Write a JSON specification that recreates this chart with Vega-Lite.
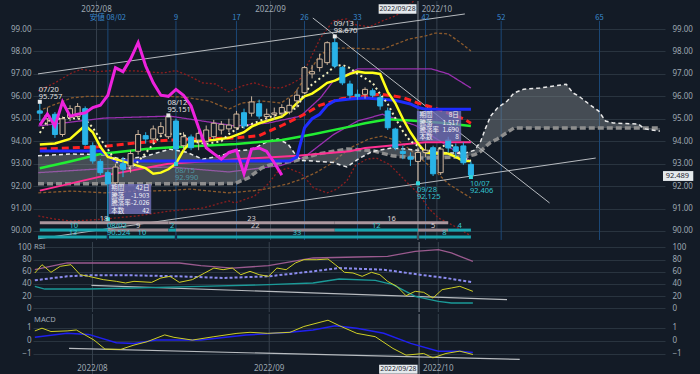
{
"$schema":"https://vega.github.io/schema/vega-lite/v6.json",
"background":"#131b26",
"padding":0,
"spacing":0,
"config":{"view":{"stroke":null},"font":"Noto Sans","concat":{"spacing":0},"text":{"font":"Noto Sans","fontSize":7.5}},
"datasets":{
"candles":[
{"i":-9,"o":95.35,"h":95.757,"l":94.9,"c":95.25},{"i":-8,"o":95.0,"h":95.5,"l":94.7,"c":95.15},{"i":-7,"o":95.2,"h":95.3,"l":94.15,"c":94.3},{"i":-6,"o":94.3,"h":95.1,"l":94.2,"c":95.0},{"i":-5,"o":95.05,"h":95.6,"l":94.9,"c":95.45},{"i":-4,"o":95.1,"h":95.7,"l":95.0,"c":95.55},{"i":-3,"o":95.45,"h":95.55,"l":93.8,"c":93.86},{"i":-2,"o":93.8,"h":93.95,"l":93.0,"c":93.12},{"i":-1,"o":93.1,"h":93.2,"l":92.5,"c":92.6},{"i":0,"o":92.6,"h":92.7,"l":90.524,"c":92.1},
{"i":1,"o":92.15,"h":93.0,"l":92.05,"c":92.85},{"i":2,"o":93.0,"h":93.3,"l":92.4,"c":92.75},{"i":3,"o":92.9,"h":93.6,"l":92.6,"c":93.45},{"i":4,"o":93.55,"h":94.5,"l":93.4,"c":94.3},{"i":5,"o":94.25,"h":94.4,"l":93.9,"c":94.1},{"i":6,"o":94.1,"h":94.7,"l":93.9,"c":94.55},{"i":7,"o":94.35,"h":94.85,"l":94.2,"c":94.65},{"i":8,"o":94.2,"h":95.151,"l":94.1,"c":95.1},{"i":9,"o":94.9,"h":95.0,"l":92.99,"c":93.65},{"i":10,"o":93.8,"h":94.4,"l":93.6,"c":94.2},
{"i":11,"o":94.19,"h":94.3,"l":93.6,"c":93.71},{"i":12,"o":94.05,"h":94.45,"l":93.6,"c":94.35},{"i":13,"o":94.0,"h":94.7,"l":93.9,"c":94.5},{"i":14,"o":94.2,"h":94.95,"l":94.1,"c":94.8},{"i":15,"o":94.5,"h":94.9,"l":94.3,"c":94.75},{"i":16,"o":94.55,"h":95.0,"l":94.4,"c":94.72},{"i":17,"o":94.6,"h":95.35,"l":94.5,"c":95.21},{"i":18,"o":95.27,"h":95.45,"l":94.55,"c":94.68},{"i":19,"o":95.25,"h":96.0,"l":95.1,"c":95.75},{"i":20,"o":95.67,"h":95.85,"l":95.0,"c":95.12},
{"i":21,"o":95.1,"h":95.45,"l":94.9,"c":95.2},{"i":22,"o":95.2,"h":95.5,"l":94.95,"c":95.26},{"i":23,"o":95.25,"h":95.65,"l":95.1,"c":95.5},{"i":24,"o":95.3,"h":95.9,"l":95.2,"c":95.6},{"i":25,"o":95.8,"h":96.3,"l":95.5,"c":96.05},{"i":26,"o":96.16,"h":97.35,"l":96.1,"c":97.28},{"i":27,"o":97.0,"h":97.4,"l":96.8,"c":97.1},{"i":28,"o":97.28,"h":97.9,"l":97.1,"c":97.66},{"i":29,"o":97.5,"h":98.45,"l":97.4,"c":98.39},{"i":30,"o":98.39,"h":98.67,"l":97.25,"c":97.35},
{"i":31,"o":97.28,"h":97.35,"l":96.5,"c":96.6},{"i":32,"o":96.55,"h":96.7,"l":95.9,"c":96.05},{"i":33,"o":96.09,"h":96.3,"l":95.85,"c":96.0},{"i":34,"o":96.09,"h":96.4,"l":95.9,"c":96.31},{"i":35,"o":96.25,"h":96.35,"l":95.95,"c":96.05},{"i":36,"o":95.94,"h":96.1,"l":95.4,"c":95.57},{"i":37,"o":95.35,"h":95.5,"l":94.5,"c":94.6},{"i":38,"o":94.54,"h":94.6,"l":93.6,"c":93.71},{"i":39,"o":93.55,"h":93.8,"l":93.2,"c":93.45},{"i":40,"o":93.3,"h":93.5,"l":92.9,"c":93.2},
{"i":41,"o":93.1,"h":93.7,"l":92.125,"c":93.5},{"i":42,"o":93.5,"h":93.9,"l":93.3,"c":93.6},{"i":43,"o":93.71,"h":93.8,"l":92.45,"c":92.55},{"i":44,"o":92.6,"h":93.75,"l":92.5,"c":93.65},{"i":45,"o":94.05,"h":94.2,"l":93.5,"c":93.7},{"i":46,"o":93.75,"h":93.9,"l":93.3,"c":93.55},{"i":47,"o":93.79,"h":93.95,"l":92.95,"c":93.04},{"i":48,"o":92.97,"h":93.1,"l":92.406,"c":92.489}
],
"ma":[
{"i":-9,"s":"ten","v":93.85},{"i":-7,"s":"ten","v":93.9},{"i":-5,"s":"ten","v":94.1},{"i":-3,"s":"ten","v":94.7},{"i":-2,"s":"ten","v":94.4},{"i":-1,"s":"ten","v":93.75},{"i":0,"s":"ten","v":93.3},{"i":2,"s":"ten","v":93.1},{"i":3,"s":"ten","v":93.0},{"i":5,"s":"ten","v":92.8},{"i":6,"s":"ten","v":92.55},{"i":7,"s":"ten","v":92.6},{"i":8,"s":"ten","v":92.75},{"i":9,"s":"ten","v":93.0},{"i":10,"s":"ten","v":93.6},{"i":11,"s":"ten","v":94.0},{"i":12,"s":"ten","v":94.0},{"i":14,"s":"ten","v":94.05},{"i":16,"s":"ten","v":94.15},{"i":18,"s":"ten","v":94.4},{"i":19,"s":"ten","v":94.65},{"i":20,"s":"ten","v":94.8},{"i":21,"s":"ten","v":94.9},{"i":23,"s":"ten","v":95.1},{"i":24,"s":"ten","v":95.35},{"i":25,"s":"ten","v":95.7},{"i":26,"s":"ten","v":96.0},{"i":27,"s":"ten","v":96.12},{"i":28,"s":"ten","v":96.35},{"i":29,"s":"ten","v":96.6},{"i":30,"s":"ten","v":96.7},{"i":31,"s":"ten","v":96.85},{"i":32,"s":"ten","v":97.0},{"i":33,"s":"ten","v":97.1},{"i":34,"s":"ten","v":97.05},{"i":35,"s":"ten","v":97.05},{"i":36,"s":"ten","v":97.0},{"i":37,"s":"ten","v":96.2},{"i":38,"s":"ten","v":95.7},{"i":39,"s":"ten","v":95.0},{"i":40,"s":"ten","v":94.4},{"i":41,"s":"ten","v":93.9},{"i":42,"s":"ten","v":93.5},{"i":43,"s":"ten","v":93.45},{"i":44,"s":"ten","v":93.45},{"i":45,"s":"ten","v":93.45},{"i":46,"s":"ten","v":93.3},{"i":47,"s":"ten","v":93.12},{"i":48,"s":"ten","v":93.12},
{"i":-9,"s":"kij","v":93.56},{"i":-1,"s":"kij","v":93.56},{"i":0,"s":"kij","v":93.35},{"i":1,"s":"kij","v":93.12},{"i":24,"s":"kij","v":93.12},{"i":25,"s":"kij","v":93.3},{"i":26,"s":"kij","v":94.6},{"i":27,"s":"kij","v":95.0},{"i":28,"s":"kij","v":95.2},{"i":29,"s":"kij","v":95.6},{"i":30,"s":"kij","v":95.8},{"i":32,"s":"kij","v":95.88},{"i":34,"s":"kij","v":95.93},{"i":36,"s":"kij","v":95.88},{"i":38,"s":"kij","v":95.82},{"i":40,"s":"kij","v":95.66},{"i":41,"s":"kij","v":95.5},{"i":42,"s":"kij","v":95.43},{"i":48,"s":"kij","v":95.43},
{"i":-9,"s":"red","v":93.65},{"i":-5,"s":"red","v":93.7},{"i":-1,"s":"red","v":93.75},{"i":3,"s":"red","v":93.9},{"i":8,"s":"red","v":94.05},{"i":12,"s":"red","v":94.1},{"i":17,"s":"red","v":94.15},{"i":20,"s":"red","v":94.25},{"i":23,"s":"red","v":94.7},{"i":26,"s":"red","v":95.2},{"i":28,"s":"red","v":95.6},{"i":31,"s":"red","v":95.9},{"i":34,"s":"red","v":96.0},{"i":36,"s":"red","v":96.1},{"i":39,"s":"red","v":95.95},{"i":41,"s":"red","v":95.7},{"i":43,"s":"red","v":95.5},{"i":45,"s":"red","v":95.25},{"i":47,"s":"red","v":95.0},{"i":48,"s":"red","v":94.8},
{"i":-9,"s":"grn","v":92.8},{"i":-5,"s":"grn","v":93.1},{"i":-1,"s":"grn","v":93.43},{"i":5,"s":"grn","v":93.65},{"i":8,"s":"grn","v":93.72},{"i":17,"s":"grn","v":93.88},{"i":23,"s":"grn","v":94.05},{"i":27,"s":"grn","v":94.3},{"i":32,"s":"grn","v":94.65},{"i":34,"s":"grn","v":94.8},{"i":37,"s":"grn","v":94.98},{"i":40,"s":"grn","v":94.92},{"i":44,"s":"grn","v":94.82},{"i":48,"s":"grn","v":94.68},
{"i":-9,"s":"pnk","v":91.8},{"i":0,"s":"pnk","v":92.5},{"i":8,"s":"pnk","v":93.0},{"i":17,"s":"pnk","v":93.2},{"i":25,"s":"pnk","v":93.35},{"i":32,"s":"pnk","v":93.55},{"i":34,"s":"pnk","v":93.7},{"i":42,"s":"pnk","v":93.95},{"i":48,"s":"pnk","v":93.95},
{"i":-9,"s":"ma5","v":94.37},{"i":-8,"s":"ma5","v":94.9},{"i":-6,"s":"ma5","v":95.03},{"i":-5,"s":"ma5","v":95.03},{"i":-3,"s":"ma5","v":94.98},{"i":-2,"s":"ma5","v":94.6},{"i":-1,"s":"ma5","v":94.1},{"i":0,"s":"ma5","v":93.65},{"i":1,"s":"ma5","v":93.12},{"i":2,"s":"ma5","v":92.8},{"i":3,"s":"ma5","v":92.8},{"i":4,"s":"ma5","v":93.1},{"i":5,"s":"ma5","v":93.47},{"i":6,"s":"ma5","v":93.88},{"i":7,"s":"ma5","v":94.23},{"i":9,"s":"ma5","v":94.37},{"i":10,"s":"ma5","v":94.3},{"i":11,"s":"ma5","v":94.0},{"i":13,"s":"ma5","v":93.88},{"i":15,"s":"ma5","v":94.0},{"i":16,"s":"ma5","v":94.32},{"i":17,"s":"ma5","v":94.54},{"i":19,"s":"ma5","v":94.77},{"i":20,"s":"ma5","v":94.9},{"i":21,"s":"ma5","v":95.03},{"i":23,"s":"ma5","v":95.26},{"i":25,"s":"ma5","v":95.48},{"i":26,"s":"ma5","v":96.15},{"i":27,"s":"ma5","v":96.54},{"i":29,"s":"ma5","v":97.04},{"i":30,"s":"ma5","v":97.35},{"i":31,"s":"ma5","v":97.4},{"i":32,"s":"ma5","v":97.26},{"i":33,"s":"ma5","v":97.0},{"i":34,"s":"ma5","v":96.8},{"i":35,"s":"ma5","v":96.6},{"i":36,"s":"ma5","v":96.1},{"i":37,"s":"ma5","v":95.66},{"i":38,"s":"ma5","v":95.03},{"i":39,"s":"ma5","v":94.45},{"i":40,"s":"ma5","v":94.0},{"i":41,"s":"ma5","v":93.79},{"i":42,"s":"ma5","v":93.56},{"i":43,"s":"ma5","v":93.6},{"i":44,"s":"ma5","v":93.7},{"i":45,"s":"ma5","v":93.92},{"i":46,"s":"ma5","v":93.7},{"i":47,"s":"ma5","v":93.25},{"i":48,"s":"ma5","v":93.12},
{"i":-9,"s":"chi","v":94.72},{"i":-8,"s":"chi","v":95.21},{"i":-7,"s":"chi","v":94.68},{"i":-6,"s":"chi","v":95.75},{"i":-5,"s":"chi","v":95.12},{"i":-4,"s":"chi","v":95.2},{"i":-3,"s":"chi","v":95.26},{"i":-2,"s":"chi","v":95.5},{"i":-1,"s":"chi","v":95.6},{"i":0,"s":"chi","v":96.05},{"i":1,"s":"chi","v":97.28},{"i":2,"s":"chi","v":97.1},{"i":3,"s":"chi","v":97.66},{"i":4,"s":"chi","v":98.39},{"i":5,"s":"chi","v":97.35},{"i":6,"s":"chi","v":96.6},{"i":7,"s":"chi","v":96.05},{"i":8,"s":"chi","v":96.0},{"i":9,"s":"chi","v":96.31},{"i":10,"s":"chi","v":96.05},{"i":11,"s":"chi","v":95.57},{"i":12,"s":"chi","v":94.6},{"i":13,"s":"chi","v":93.71},{"i":14,"s":"chi","v":93.45},{"i":15,"s":"chi","v":93.2},{"i":16,"s":"chi","v":93.5},{"i":17,"s":"chi","v":93.6},{"i":18,"s":"chi","v":92.55},{"i":19,"s":"chi","v":93.65},{"i":20,"s":"chi","v":93.7},{"i":21,"s":"chi","v":93.55},{"i":22,"s":"chi","v":93.04},{"i":23,"s":"chi","v":92.489}
],
"bands":[
{"i":-9.2,"s":"u3","v":96.24},{"i":-7,"s":"u3","v":96.6},{"i":-4.8,"s":"u3","v":97.04},{"i":-3.5,"s":"u3","v":97.2},{"i":-1.4,"s":"u3","v":97.1},{"i":0.8,"s":"u3","v":97.15},{"i":3.8,"s":"u3","v":97.13},{"i":7.3,"s":"u3","v":97.04},{"i":9,"s":"u3","v":97.15},{"i":10.8,"s":"u3","v":96.9},{"i":12.5,"s":"u3","v":96.6},{"i":14.2,"s":"u3","v":96.55},{"i":16,"s":"u3","v":96.2},{"i":17.7,"s":"u3","v":96.46},{"i":19.4,"s":"u3","v":96.6},{"i":21.2,"s":"u3","v":96.4},{"i":22.9,"s":"u3","v":96.37},{"i":24.2,"s":"u3","v":96.55},{"i":25.5,"s":"u3","v":96.8},{"i":26.8,"s":"u3","v":97.7},{"i":28.1,"s":"u3","v":98.6},{"i":29.8,"s":"u3","v":99.36},{"i":31.6,"s":"u3","v":99.45},{"i":32.5,"s":"u3","v":99.2},{"i":34.6,"s":"u3","v":99.1},{"i":36.3,"s":"u3","v":99.36},{"i":38.1,"s":"u3","v":99.6},{"i":39.2,"s":"u3","v":99.9},{"i":41,"s":"u3","v":100.4},{"i":44,"s":"u3","v":101.0},{"i":48,"s":"u3","v":101.2},
{"i":-9.2,"s":"l3","v":90.67},{"i":-7,"s":"l3","v":90.53},{"i":-4.8,"s":"l3","v":90.44},{"i":-0.5,"s":"l3","v":90.53},{"i":3.8,"s":"l3","v":90.67},{"i":8.2,"s":"l3","v":90.89},{"i":12.5,"s":"l3","v":91.02},{"i":16,"s":"l3","v":91.34},{"i":16.8,"s":"l3","v":91.25},{"i":19.4,"s":"l3","v":91.56},{"i":21.2,"s":"l3","v":92.1},{"i":22.5,"s":"l3","v":92.67},{"i":23.8,"s":"l3","v":92.8},{"i":25.5,"s":"l3","v":92.58},{"i":27.2,"s":"l3","v":91.92},{"i":29,"s":"l3","v":91.7},{"i":30.3,"s":"l3","v":91.87},{"i":31.6,"s":"l3","v":92.23},{"i":32.7,"s":"l3","v":92.9},{"i":34.2,"s":"l3","v":93.2},{"i":35.5,"s":"l3","v":93.25},{"i":37.2,"s":"l3","v":92.97},{"i":38.5,"s":"l3","v":92.53},{"i":39.8,"s":"l3","v":92.08},{"i":41.1,"s":"l3","v":91.65},{"i":42.4,"s":"l3","v":91.02},{"i":43.7,"s":"l3","v":90.58},{"i":45,"s":"l3","v":90.36},{"i":46.3,"s":"l3","v":90.13},{"i":48,"s":"l3","v":89.78},
{"i":-9.2,"s":"u2","v":95.35},{"i":-4.8,"s":"u2","v":95.93},{"i":-2.7,"s":"u2","v":96.0},{"i":3.8,"s":"u2","v":96.0},{"i":8.2,"s":"u2","v":96.0},{"i":10.3,"s":"u2","v":95.95},{"i":13.4,"s":"u2","v":95.79},{"i":16,"s":"u2","v":95.43},{"i":17.7,"s":"u2","v":95.7},{"i":20.3,"s":"u2","v":95.79},{"i":22.9,"s":"u2","v":95.7},{"i":24.6,"s":"u2","v":96.1},{"i":26.4,"s":"u2","v":96.98},{"i":28.1,"s":"u2","v":97.87},{"i":29.8,"s":"u2","v":98.15},{"i":31.6,"s":"u2","v":98.15},{"i":36.3,"s":"u2","v":98.1},{"i":39.8,"s":"u2","v":98.55},{"i":42,"s":"u2","v":98.69},{"i":43.3,"s":"u2","v":98.82},{"i":45,"s":"u2","v":98.78},{"i":46.7,"s":"u2","v":98.37},{"i":48,"s":"u2","v":98.02},
{"i":-9.2,"s":"l2","v":91.7},{"i":-4.8,"s":"l2","v":91.78},{"i":-0.5,"s":"l2","v":91.7},{"i":3.8,"s":"l2","v":91.78},{"i":8.2,"s":"l2","v":91.8},{"i":10.8,"s":"l2","v":91.87},{"i":16,"s":"l2","v":91.7},{"i":19.4,"s":"l2","v":91.8},{"i":21.2,"s":"l2","v":91.9},{"i":23.8,"s":"l2","v":92.1},{"i":25.5,"s":"l2","v":92.3},{"i":27.5,"s":"l2","v":92.6},{"i":29.5,"s":"l2","v":93.0},{"i":32,"s":"l2","v":93.7},{"i":34.5,"s":"l2","v":94.1},{"i":36.3,"s":"l2","v":94.23},{"i":38.5,"s":"l2","v":94.0},{"i":40.7,"s":"l2","v":93.43},{"i":43.3,"s":"l2","v":92.67},{"i":45,"s":"l2","v":92.1},{"i":48,"s":"l2","v":91.47},
{"i":-9.2,"s":"u1","v":94.68},{"i":-0.5,"s":"u1","v":95.03},{"i":8.2,"s":"u1","v":95.12},{"i":12.5,"s":"u1","v":94.9},{"i":16.8,"s":"u1","v":94.68},{"i":21.2,"s":"u1","v":94.81},{"i":25.5,"s":"u1","v":95.12},{"i":28.1,"s":"u1","v":95.93},{"i":29.8,"s":"u1","v":96.68},{"i":31.6,"s":"u1","v":96.98},{"i":33,"s":"u1","v":97.22},{"i":36.3,"s":"u1","v":97.22},{"i":40.7,"s":"u1","v":97.22},{"i":42.8,"s":"u1","v":97.22},{"i":45,"s":"u1","v":97.0},{"i":48,"s":"u1","v":96.37},
{"i":-9.2,"s":"l1","v":92.6},{"i":-0.5,"s":"l1","v":92.78},{"i":8.2,"s":"l1","v":92.85},{"i":16,"s":"l1","v":92.63},{"i":22.9,"s":"l1","v":92.92},{"i":26,"s":"l1","v":93.3},{"i":29.8,"s":"l1","v":94.29},{"i":33,"s":"l1","v":94.9},{"i":36.3,"s":"l1","v":95.2},{"i":40.7,"s":"l1","v":94.7},{"i":45,"s":"l1","v":93.77},{"i":48,"s":"l1","v":93.1}
],
"cloud":[
{"i":-9.24,"a":93.35,"b":92.1},{"i":-5,"a":93.43,"b":92.1},{"i":-0.5,"a":93.4,"b":92.1},{"i":1.7,"a":93.2,"b":92.1},{"i":4.7,"a":93.3,"b":92.1},{"i":8.2,"a":93.65,"b":92.1},{"i":10.5,"a":93.5,"b":92.1},{"i":12.5,"a":93.2,"b":92.11},{"i":14.7,"a":93.34,"b":92.11},{"i":16.8,"a":93.56,"b":92.12},{"i":18.6,"a":93.62,"b":92.37},{"i":19.5,"a":93.7,"b":92.6},{"i":20.3,"a":93.85,"b":92.8},{"i":21.2,"a":94.0,"b":92.92},{"i":22.5,"a":94.1,"b":93.03},{"i":23.8,"a":93.88,"b":93.08},{"i":24.6,"a":93.5,"b":93.12},{"i":25.5,"a":93.15,"b":93.2},{"i":27.7,"a":93.1,"b":93.43},{"i":29.8,"a":93.05,"b":93.55},{"i":31.6,"a":92.85,"b":93.65},{"i":33.3,"a":93.25,"b":93.62},{"i":35,"a":93.55,"b":93.58},{"i":37.6,"a":93.7,"b":93.35},{"i":41,"a":93.6,"b":93.25},{"i":44,"a":93.5,"b":93.27},{"i":47,"a":93.45,"b":93.3},{"i":48.5,"a":93.6,"b":93.4},{"i":49.3,"a":94.0,"b":93.55},{"i":49.9,"a":94.55,"b":93.75},{"i":50.6,"a":95.12,"b":93.95},{"i":51.5,"a":95.48,"b":94.1},{"i":52.8,"a":95.79,"b":94.4},{"i":53.7,"a":96.15,"b":94.59},{"i":55,"a":96.32,"b":94.59},{"i":57.1,"a":96.37,"b":94.59},{"i":59,"a":96.46,"b":94.59},{"i":60.6,"a":96.54,"b":94.59},{"i":61.5,"a":96.15,"b":94.59},{"i":62.3,"a":96.0,"b":94.59},{"i":63.6,"a":95.66,"b":94.59},{"i":64.9,"a":95.34,"b":94.59},{"i":65.8,"a":94.9,"b":94.59},{"i":66.8,"a":94.81,"b":94.59},{"i":70.1,"a":94.77,"b":94.59},{"i":71,"a":94.55,"b":94.59},{"i":73,"a":94.45,"b":94.59}
],
"fib":[{"v":98.67,"p":"0%","t":"98.670"},{"v":96.748,"p":"23.6%","t":"96.748"},{"v":95.558,"p":"38.2%","t":"95.558"},{"v":94.597,"p":"50%","t":"94.597"},{"v":93.636,"p":"61.8%","t":"93.636"},{"v":92.446,"p":"76.4%","t":"92.446"},{"v":90.524,"p":"100%","t":"90.524"}],
"trend":[{"g":"t1","i":-9.24,"v":97.0},{"g":"t1","i":47.2,"v":99.67},{"g":"t2","i":-9.24,"v":89.65},{"g":"t2","i":64.5,"v":93.25},{"g":"t3","i":27.1,"v":99.49},{"g":"t3","i":58.4,"v":91.25}],
"dates":[{"i":-1.5,"t":"2022/08"},{"i":21.5,"t":"2022/09"},{"i":43.5,"t":"2022/10"}],
"sel":[{"i":41,"t":"2022/09/28","a":35.8,"b":40.8,"m":38.3}],
"cycles":[{"i":0,"t":"安値 08/02"},{"i":9,"t":"9"},{"i":17,"t":"17"},{"i":26,"t":"26"},{"i":33,"t":"33"},{"i":42,"t":"42"},{"i":52,"t":"52"},{"i":65,"t":"65"}],
"pivots":[{"i":-9,"v":95.757,"k":"hi","d":"07/20","t":"95.757"},{"i":8,"v":95.151,"k":"hi","d":"08/12","t":"95.151"},{"i":30,"v":98.67,"k":"hi","d":"09/13","t":"98.670"},{"i":0,"v":90.524,"k":"lo","d":"08/02","t":"90.524"},{"i":9,"v":92.99,"k":"lo2","d":"08/15","t":"92.990"},{"i":41,"v":92.125,"k":"lo","d":"09/28","t":"92.125"},{"i":48,"v":92.406,"k":"lo","d":"10/07","t":"92.406"}],
"swings":[
{"a":-9,"b":8,"m":-0.5,"r":90.37,"k":"hh","n":"18"},{"a":8,"b":30,"m":19,"r":90.37,"k":"hh","n":"23"},{"a":30,"b":45,"m":37.5,"r":90.37,"k":"hh","n":"16"},
{"a":-9,"b":0,"m":-4.5,"r":90.04,"k":"dn","n":"10"},{"a":0,"b":8,"m":4,"r":90.04,"k":"up","n":"9"},{"a":8,"b":9,"m":8.5,"r":90.04,"k":"dn","n":"2"},{"a":9,"b":30,"m":19.5,"r":90.04,"k":"up","n":"22"},{"a":30,"b":41,"m":35.5,"r":90.04,"k":"dn","n":"12"},{"a":41,"b":45,"m":43,"r":90.04,"k":"up","n":"5"},{"a":45,"b":48,"m":46.5,"r":90.04,"k":"dn","n":"4"},
{"a":-9.24,"b":-0.15,"m":-4.6,"r":89.73,"k":"dn","n":"13"},{"a":0.15,"b":8.85,"m":4.5,"r":89.73,"k":"dn","n":"10"},{"a":9.15,"b":40.85,"m":25,"r":89.73,"k":"dn","n":"33"},{"a":41.15,"b":48,"m":44.5,"r":89.73,"k":"dn","n":"8"}
],
"infobox":[{"a":0.13,"b":5.73,"t":92.09,"u":90.76},{"a":40.86,"b":46.71,"t":95.35,"u":94.01}],
"info":[
{"xl":0.45,"xr":5.5,"v":91.92,"lab":"期間","val":"42日"},{"xl":0.45,"xr":5.5,"v":91.58,"lab":"騰落","val":"-1.903"},{"xl":0.45,"xr":5.5,"v":91.25,"lab":"騰落率","val":"-2.026"},{"xl":0.45,"xr":5.5,"v":90.91,"lab":"本数","val":"42"},
{"xl":41.2,"xr":46.4,"v":95.17,"lab":"期間","val":"8日"},{"xl":41.2,"xr":46.4,"v":94.83,"lab":"騰落","val":"1.517"},{"xl":41.2,"xr":46.4,"v":94.5,"lab":"騰落率","val":"1.690"},{"xl":41.2,"xr":46.4,"v":94.17,"lab":"本数","val":"8"}
],
"tag":[{"a":73.4,"b":77.4,"t":92.67,"u":92.23,"m":75.3,"v":92.45,"s":"92.489"}],
"rsi":[
{"i":-9,"s":"y","v":57.9},{"i":-8.07,"s":"y","v":71.5},{"i":-6.9,"s":"y","v":59},{"i":-5.7,"s":"y","v":68.8},{"i":-4.3,"s":"y","v":71.5},{"i":-3.1,"s":"y","v":55.1},{"i":-2,"s":"y","v":52.4},{"i":-0.1,"s":"y","v":47},{"i":1.6,"s":"y","v":44.2},{"i":2.8,"s":"y","v":41.5},{"i":3.9,"s":"y","v":44.2},{"i":6.2,"s":"y","v":42.5},{"i":7.4,"s":"y","v":49.7},{"i":8.6,"s":"y","v":52.4},{"i":9.8,"s":"y","v":42.6},{"i":11.5,"s":"y","v":47},{"i":13.1,"s":"y","v":57.9},{"i":14.3,"s":"y","v":66},{"i":15.5,"s":"y","v":63.3},{"i":16.7,"s":"y","v":66},{"i":17.8,"s":"y","v":55.1},{"i":19,"s":"y","v":60.6},{"i":20.2,"s":"y","v":55.1},{"i":21.4,"s":"y","v":52.4},{"i":22.5,"s":"y","v":66},{"i":23.7,"s":"y","v":63.3},{"i":24.9,"s":"y","v":74.3},{"i":26,"s":"y","v":79.7},{"i":27.7,"s":"y","v":79.7},{"i":29.15,"s":"y","v":80.8},{"i":30.1,"s":"y","v":71.5},{"i":31.3,"s":"y","v":59},{"i":32.4,"s":"y","v":57.9},{"i":33.6,"s":"y","v":52.4},{"i":34.8,"s":"y","v":59},{"i":35.9,"s":"y","v":55.1},{"i":36.9,"s":"y","v":44.2},{"i":38.1,"s":"y","v":36},{"i":39.3,"s":"y","v":20.7},{"i":40.5,"s":"y","v":27.8},{"i":41.6,"s":"y","v":26.2},{"i":42.8,"s":"y","v":16.9},{"i":44,"s":"y","v":30.6},{"i":45.2,"s":"y","v":33.3},{"i":46.3,"s":"y","v":36},{"i":48,"s":"y","v":27.8},
{"i":-9,"s":"l","v":45.9},{"i":-4.8,"s":"l","v":52.4},{"i":-2,"s":"l","v":54},{"i":3.9,"s":"l","v":54},{"i":9.8,"s":"l","v":52.4},{"i":15.5,"s":"l","v":49.7},{"i":21.4,"s":"l","v":52.4},{"i":27.2,"s":"l","v":60.6},{"i":30.6,"s":"l","v":66},{"i":36.4,"s":"l","v":63.3},{"i":41.1,"s":"l","v":55.1},{"i":44.5,"s":"l","v":49.7},{"i":48,"s":"l","v":42.5},
{"i":-9,"s":"p","v":63.3},{"i":-4.8,"s":"p","v":74.3},{"i":1,"s":"p","v":74.3},{"i":9.8,"s":"p","v":74.3},{"i":12.6,"s":"p","v":69.9},{"i":16.7,"s":"p","v":66},{"i":21.4,"s":"p","v":69.9},{"i":27.2,"s":"p","v":82.5},{"i":32.9,"s":"p","v":84.1},{"i":36.9,"s":"p","v":85.2},{"i":40.5,"s":"p","v":93.4},{"i":43.5,"s":"p","v":96.1},{"i":45.2,"s":"p","v":90.7},{"i":48,"s":"p","v":77},
{"i":-9,"s":"t","v":36},{"i":-7.7,"s":"t","v":31.6},{"i":-2,"s":"t","v":31.6},{"i":3.9,"s":"t","v":33.3},{"i":12.6,"s":"t","v":36},{"i":21.4,"s":"t","v":38.7},{"i":27.2,"s":"t","v":41.5},{"i":30.6,"s":"t","v":48},{"i":35.3,"s":"t","v":45.8},{"i":37.6,"s":"t","v":38.7},{"i":40.5,"s":"t","v":19.6},{"i":43.5,"s":"t","v":11.4},{"i":45.2,"s":"t","v":8.7},{"i":48,"s":"t","v":8.7}
],
"macd":[
{"i":-9,"s":"m","v":0.76},{"i":-8.07,"s":"m","v":0.97},{"i":-6.9,"s":"m","v":0.71},{"i":-4.8,"s":"m","v":0.76},{"i":-3.6,"s":"m","v":0.83},{"i":-1.3,"s":"m","v":0.05},{"i":0.13,"s":"m","v":-0.65},{"i":2.2,"s":"m","v":-0.67},{"i":3.9,"s":"m","v":-0.34},{"i":5.6,"s":"m","v":-0.08},{"i":7.9,"s":"m","v":0.45},{"i":9.1,"s":"m","v":0.26},{"i":11.5,"s":"m","v":0.05},{"i":14.3,"s":"m","v":0.31},{"i":17.3,"s":"m","v":0.57},{"i":19,"s":"m","v":0.65},{"i":21.3,"s":"m","v":0.57},{"i":24.2,"s":"m","v":0.65},{"i":26,"s":"m","v":1.1},{"i":29.15,"s":"m","v":1.59},{"i":30.6,"s":"m","v":1.17},{"i":32.9,"s":"m","v":0.57},{"i":35.3,"s":"m","v":0.31},{"i":37.6,"s":"m","v":-0.6},{"i":39.3,"s":"m","v":-1.12},{"i":41.6,"s":"m","v":-0.99},{"i":42.8,"s":"m","v":-1.33},{"i":44.5,"s":"m","v":-0.99},{"i":46.3,"s":"m","v":-0.81},{"i":48,"s":"m","v":-1.07},
{"i":-9,"s":"s","v":0.26},{"i":-4.8,"s":"s","v":0.57},{"i":-2,"s":"s","v":0.49},{"i":1.6,"s":"s","v":-0.16},{"i":3.9,"s":"s","v":-0.21},{"i":6.8,"s":"s","v":0.05},{"i":12.6,"s":"s","v":0.05},{"i":18.5,"s":"s","v":0.44},{"i":24.2,"s":"s","v":0.65},{"i":27.2,"s":"s","v":0.83},{"i":30.1,"s":"s","v":1.15},{"i":32.9,"s":"s","v":0.96},{"i":36.4,"s":"s","v":0.57},{"i":39.9,"s":"s","v":-0.21},{"i":43.5,"s":"s","v":-0.81},{"i":46.3,"s":"s","v":-0.81},{"i":48,"s":"s","v":-0.91}
],
"rtrend":[{"i":-1.63,"v":37.7},{"i":52.44,"v":14.2}],
"mtrend":[{"i":-4.55,"v":-0.6},{"i":54.1,"v":-1.45}]
},
"vconcat":[
{
"width":632,"height":239,
"resolve":{"axis":{"y":"independent"}},
"encoding":{"x":{"field":"i","type":"quantitative","scale":{"domain":[-9.24,73],"nice":false,"zero":false},"axis":null}},
"layer":[
{"data":{"name":"dates"},"mark":{"type":"rule","color":"#36414d"},"encoding":{}},
{"data":{"name":"sel"},"mark":{"type":"rule","color":"#7b838c"},"encoding":{}},
{"data":{"name":"cycles"},"mark":{"type":"rule","color":"#1c4877"},"encoding":{"y":{"datum":99.36,"type":"quantitative","scale":{"domain":[89.599,100.2476],"nice":false,"zero":false},"axis":null},"y2":{"datum":89.6}}},
{"data":{"name":"bands"},"mark":{"type":"line","strokeWidth":1.3,"clip":true},"encoding":{"y":{"field":"v","type":"quantitative","scale":{"domain":[89.599,100.2476],"nice":false,"zero":false},"axis":null},"detail":{"field":"s"},"color":{"field":"s","type":"nominal","scale":{"domain":["u3","l3","u2","l2","u1","l1"],"range":["#8e1e1e","#8e1e1e","#8c5a2c","#8c5a2c","#9a30b0","#9a30b0"]},"legend":null},"strokeDash":{"field":"s","type":"nominal","scale":{"domain":["u3","l3","u2","l2","u1","l1"],"range":[[2,2],[2,2],[3,2],[3,2],[1,0],[1,0]]},"legend":null}}},
{"data":{"name":"cloud"},"mark":{"type":"area","color":"#8a9294","opacity":0.42},"encoding":{"y":{"field":"a","type":"quantitative","scale":{"domain":[89.599,100.2476],"nice":false,"zero":false},"axis":null},"y2":{"field":"b"}}},
{"data":{"name":"cloud"},"mark":{"type":"line","color":"#8e8e8e","strokeWidth":3.5,"strokeDash":[6,3]},"encoding":{"y":{"field":"b","type":"quantitative","scale":{"domain":[89.599,100.2476],"nice":false,"zero":false},"axis":null}}},
{"data":{"name":"cloud"},"mark":{"type":"line","color":"#e8e8e8","strokeWidth":1.5,"strokeDash":[4,3]},"encoding":{"y":{"field":"a","type":"quantitative","scale":{"domain":[89.599,100.2476],"nice":false,"zero":false},"axis":null}}},
{"data":{"name":"fib"},"mark":{"type":"rule","color":"#2b7d2b"},"encoding":{"x":{"datum":-9.24},"x2":{"datum":60.64},"y":{"field":"v","type":"quantitative","scale":{"domain":[89.599,100.2476],"nice":false,"zero":false},"axis":{"orient":"right","values":[90,91,92,93,94,95,96,97,98,99],"format":".2f","title":null,"grid":false,"domain":false,"ticks":false,"labelColor":"#9ea8b2","labelFontSize":8,"labelPadding":7,"minExtent":35,"maxExtent":35}}}},
{"data":{"values":[{"v":92}]},"mark":{"type":"rule","color":"#8a5a30","strokeWidth":1.2},"encoding":{"x":{"datum":-9.24},"x2":{"datum":73},"y":{"field":"v","type":"quantitative","scale":{"domain":[89.599,100.2476],"nice":false,"zero":false},"axis":{"orient":"left","values":[90,91,92,93,94,95,96,97,98,99],"format":".2f","title":null,"grid":true,"gridColor":"#29343f","domain":false,"ticks":false,"labelColor":"#9ea8b2","labelFontSize":8,"labelPadding":2,"minExtent":33,"maxExtent":33}}}},
{"data":{"name":"trend"},"mark":{"type":"line","color":"#b8bcc0","strokeWidth":1,"clip":true},"encoding":{"y":{"field":"v","type":"quantitative","scale":{"domain":[89.599,100.2476],"nice":false,"zero":false},"axis":null},"detail":{"field":"g"}}},
{"data":{"name":"ma"},"transform":[{"filter":"datum.s=='pnk'"}],"mark":{"type":"line","color":"#ff2f92","strokeWidth":2},"encoding":{"y":{"field":"v","type":"quantitative","scale":{"domain":[89.599,100.2476],"nice":false,"zero":false},"axis":null}}},
{"data":{"name":"ma"},"transform":[{"filter":"datum.s=='grn'"}],"mark":{"type":"line","color":"#22ee33","strokeWidth":2.5},"encoding":{"y":{"field":"v","type":"quantitative","scale":{"domain":[89.599,100.2476],"nice":false,"zero":false},"axis":null}}},
{"data":{"name":"ma"},"transform":[{"filter":"datum.s=='red'"}],"mark":{"type":"line","color":"#ff2222","strokeWidth":3,"strokeDash":[7,4]},"encoding":{"y":{"field":"v","type":"quantitative","scale":{"domain":[89.599,100.2476],"nice":false,"zero":false},"axis":null}}},
{"data":{"name":"ma"},"transform":[{"filter":"datum.s=='kij'"}],"mark":{"type":"line","color":"#1f2dff","strokeWidth":3},"encoding":{"y":{"field":"v","type":"quantitative","scale":{"domain":[89.599,100.2476],"nice":false,"zero":false},"axis":null}}},
{"data":{"name":"ma"},"transform":[{"filter":"datum.s=='ten'"}],"mark":{"type":"line","color":"#ffff1a","strokeWidth":2.5},"encoding":{"y":{"field":"v","type":"quantitative","scale":{"domain":[89.599,100.2476],"nice":false,"zero":false},"axis":null}}},
{"data":{"name":"ma"},"transform":[{"filter":"datum.s=='ma5'"}],"mark":{"type":"line","color":"#f4f0c0","strokeWidth":2,"strokeDash":[2,3]},"encoding":{"y":{"field":"v","type":"quantitative","scale":{"domain":[89.599,100.2476],"nice":false,"zero":false},"axis":null}}},
{"data":{"name":"candles"},"mark":{"type":"rule","strokeWidth":1},"encoding":{"y":{"field":"l","type":"quantitative","scale":{"domain":[89.599,100.2476],"nice":false,"zero":false},"axis":null},"y2":{"field":"h"},"color":{"condition":{"test":"datum.c>=datum.o","value":"#c9b39c"},"value":"#29b3e8"}}},
{"data":{"name":"candles"},"mark":{"type":"bar","width":5,"strokeWidth":1},"encoding":{"y":{"field":"o","type":"quantitative","scale":{"domain":[89.599,100.2476],"nice":false,"zero":false},"axis":null},"y2":{"field":"c"},"fill":{"condition":{"test":"datum.c>=datum.o","value":"#131b26"},"value":"#29b3e8"},"stroke":{"condition":{"test":"datum.c>=datum.o","value":"#d2b89e"},"value":"#29b3e8"}}},
{"data":{"name":"ma"},"transform":[{"filter":"datum.s=='chi'"}],"mark":{"type":"line","color":"#ee22dd","strokeWidth":3},"encoding":{"y":{"field":"v","type":"quantitative","scale":{"domain":[89.599,100.2476],"nice":false,"zero":false},"axis":null}}},
{"data":{"name":"pivots"},"mark":{"type":"square","size":16,"filled":true,"opacity":1},"encoding":{"y":{"field":"v","type":"quantitative","scale":{"domain":[89.599,100.2476],"nice":false,"zero":false},"axis":null},"color":{"condition":{"test":"datum.k=='hi'","value":"#e8e8e8"},"value":"#30d4dc"}}},
{"data":{"name":"swings"},"mark":{"type":"rule","strokeWidth":3},"encoding":{"x":{"field":"a","type":"quantitative"},"x2":{"field":"b"},"y":{"field":"r","type":"quantitative","scale":{"domain":[89.599,100.2476],"nice":false,"zero":false},"axis":null},"color":{"condition":[{"test":"datum.k=='dn'","value":"#1aa4ae"},{"test":"datum.k=='hh'","value":"#ab979e"}],"value":"#978890"}}},
{"data":{"name":"swings"},"mark":{"type":"text","dy":-4,"fontSize":7.5},"encoding":{"x":{"field":"m","type":"quantitative"},"y":{"field":"r","type":"quantitative","scale":{"domain":[89.599,100.2476],"nice":false,"zero":false},"axis":null},"text":{"field":"n"},"color":{"condition":{"test":"datum.k=='dn'","value":"#3cc8d2"},"value":"#d8cfd2"}}},
{"data":{"name":"dates"},"mark":{"type":"text","color":"#9ea8b2","fontSize":8},"encoding":{"y":{"datum":99.86,"type":"quantitative","scale":{"domain":[89.599,100.2476],"nice":false,"zero":false},"axis":null},"text":{"field":"t"}}},
{"data":{"name":"sel"},"mark":{"type":"rect","color":"#e4e9ed"},"encoding":{"x":{"field":"a","type":"quantitative"},"x2":{"field":"b"},"y":{"datum":100.1,"type":"quantitative","scale":{"domain":[89.599,100.2476],"nice":false,"zero":false},"axis":null},"y2":{"datum":99.68}}},
{"data":{"name":"sel"},"mark":{"type":"text","color":"#1e2630","fontSize":6.8},"encoding":{"x":{"field":"m","type":"quantitative"},"y":{"datum":99.89,"type":"quantitative","scale":{"domain":[89.599,100.2476],"nice":false,"zero":false},"axis":null},"text":{"field":"t"}}},
{"data":{"name":"cycles"},"mark":{"type":"text","color":"#3a8ad0","fontSize":7.5,"font":"Noto Sans CJK JP"},"encoding":{"y":{"datum":99.47,"type":"quantitative","scale":{"domain":[89.599,100.2476],"nice":false,"zero":false},"axis":null},"text":{"field":"t"}}},
{"data":{"name":"pivots"},"transform":[{"filter":"datum.k=='hi'"}],"mark":{"type":"text","align":"left","dx":-1,"dy":-12,"color":"#e2e2e2","fontSize":7.5},"encoding":{"y":{"field":"v","type":"quantitative","scale":{"domain":[89.599,100.2476],"nice":false,"zero":false},"axis":null},"text":{"field":"d"}}},
{"data":{"name":"pivots"},"transform":[{"filter":"datum.k=='hi'"}],"mark":{"type":"text","align":"left","dx":-1,"dy":-5,"color":"#e2e2e2","fontSize":7.5},"encoding":{"y":{"field":"v","type":"quantitative","scale":{"domain":[89.599,100.2476],"nice":false,"zero":false},"axis":null},"text":{"field":"t"}}},
{"data":{"name":"pivots"},"transform":[{"filter":"datum.k!='hi'"}],"mark":{"type":"text","align":"left","dx":-1,"dy":7,"fontSize":7.5},"encoding":{"y":{"field":"v","type":"quantitative","scale":{"domain":[89.599,100.2476],"nice":false,"zero":false},"axis":null},"text":{"field":"d"},"color":{"condition":{"test":"datum.k=='lo2'","value":"#4f94a2"},"value":"#33c3d0"}}},
{"data":{"name":"pivots"},"transform":[{"filter":"datum.k!='hi'"}],"mark":{"type":"text","align":"left","dx":-1,"dy":14,"fontSize":7.5},"encoding":{"y":{"field":"v","type":"quantitative","scale":{"domain":[89.599,100.2476],"nice":false,"zero":false},"axis":null},"text":{"field":"t"},"color":{"condition":{"test":"datum.k=='lo2'","value":"#4f94a2"},"value":"#33c3d0"}}},
{"data":{"name":"fib"},"mark":{"type":"text","align":"left","dy":-4,"color":"#2fa52f","fontSize":7.5},"encoding":{"x":{"datum":-1.82},"y":{"field":"v","type":"quantitative","scale":{"domain":[89.599,100.2476],"nice":false,"zero":false},"axis":null},"text":{"field":"p"}}},
{"data":{"name":"fib"},"mark":{"type":"text","dy":-4,"color":"#2fa52f","fontSize":7.5},"encoding":{"x":{"datum":59.7},"y":{"field":"v","type":"quantitative","scale":{"domain":[89.599,100.2476],"nice":false,"zero":false},"axis":null},"text":{"field":"t"}}},
{"data":{"name":"infobox"},"mark":{"type":"rect","color":"#7472bb","opacity":0.8},"encoding":{"x":{"field":"a","type":"quantitative"},"x2":{"field":"b"},"y":{"field":"t","type":"quantitative","scale":{"domain":[89.599,100.2476],"nice":false,"zero":false},"axis":null},"y2":{"field":"u"}}},
{"data":{"name":"info"},"mark":{"type":"text","align":"left","color":"#f0f0f4","fontSize":6.5,"font":"Noto Sans CJK JP"},"encoding":{"x":{"field":"xl","type":"quantitative"},"y":{"field":"v","type":"quantitative","scale":{"domain":[89.599,100.2476],"nice":false,"zero":false},"axis":null},"text":{"field":"lab"}}},
{"data":{"name":"info"},"mark":{"type":"text","align":"right","color":"#f0f0f4","fontSize":6.5,"font":"Noto Sans CJK JP"},"encoding":{"x":{"field":"xr","type":"quantitative"},"y":{"field":"v","type":"quantitative","scale":{"domain":[89.599,100.2476],"nice":false,"zero":false},"axis":null},"text":{"field":"val"}}},
{"data":{"name":"tag"},"mark":{"type":"rect","color":"#e4e9ec"},"encoding":{"x":{"field":"a","type":"quantitative"},"x2":{"field":"b"},"y":{"field":"t","type":"quantitative","scale":{"domain":[89.599,100.2476],"nice":false,"zero":false},"axis":null},"y2":{"field":"u"}}},
{"data":{"name":"tag"},"mark":{"type":"text","color":"#1e2630","fontSize":7.5},"encoding":{"x":{"field":"m","type":"quantitative"},"y":{"field":"v","type":"quantitative","scale":{"domain":[89.599,100.2476],"nice":false,"zero":false},"axis":null},"text":{"field":"s"}}},
{"data":{"values":[{"v":89.62}]},"mark":{"type":"rule","color":"#59626b"},"encoding":{"x":{"datum":-13.5},"x2":{"datum":77.5},"y":{"field":"v","type":"quantitative","scale":{"domain":[89.599,100.2476],"nice":false,"zero":false},"axis":null}}}
]
},
{
"width":632,"height":70,
"resolve":{"axis":{"y":"independent"}},
"encoding":{"x":{"field":"i","type":"quantitative","scale":{"domain":[-9.24,73],"nice":false,"zero":false},"axis":null}},
"layer":[
{"data":{"name":"dates"},"mark":{"type":"rule","color":"#36414d"},"encoding":{}},
{"data":{"name":"sel"},"mark":{"type":"rule","color":"#7b838c"},"encoding":{}},
{"data":{"values":[{"v":50}]},"mark":{"type":"rule","color":"#7a4a28","strokeWidth":1.2},"encoding":{"x":{"datum":-9.24},"x2":{"datum":73},"y":{"field":"v","type":"quantitative","scale":{"domain":[-6.07,108.7],"nice":false,"zero":false},"axis":{"orient":"left","values":[0,20,40,60,80,100],"title":null,"grid":true,"gridColor":"#29343f","domain":false,"ticks":false,"labelColor":"#9ea8b2","labelFontSize":8,"labelPadding":2,"minExtent":33,"maxExtent":33}}}},
{"data":{"name":"rtrend"},"mark":{"type":"line","color":"#b8bcc0","strokeWidth":1.2},"encoding":{"y":{"field":"v","type":"quantitative","scale":{"domain":[-6.07,108.7],"nice":false,"zero":false},"axis":null}}},
{"data":{"name":"rsi"},"transform":[{"filter":"datum.s=='p'"}],"mark":{"type":"line","color":"#9a5a8e","strokeWidth":1.3},"encoding":{"y":{"field":"v","type":"quantitative","scale":{"domain":[-6.07,108.7],"nice":false,"zero":false},"axis":null}}},
{"data":{"name":"rsi"},"transform":[{"filter":"datum.s=='t'"}],"mark":{"type":"line","color":"#1b9a98","strokeWidth":1.3},"encoding":{"y":{"field":"v","type":"quantitative","scale":{"domain":[-6.07,108.7],"nice":false,"zero":false},"axis":null}}},
{"data":{"name":"rsi"},"transform":[{"filter":"datum.s=='l'"}],"mark":{"type":"line","color":"#8c8cf0","strokeWidth":2,"strokeDash":[3,2]},"encoding":{"y":{"field":"v","type":"quantitative","scale":{"domain":[-6.07,108.7],"nice":false,"zero":false},"axis":null}}},
{"data":{"name":"rsi"},"transform":[{"filter":"datum.s=='y'"}],"mark":{"type":"line","color":"#cfcf25","strokeWidth":1},"encoding":{"y":{"field":"v","type":"quantitative","scale":{"domain":[-6.07,108.7],"nice":false,"zero":false},"axis":{"orient":"right","values":[0,20,40,60,80,100],"title":null,"grid":false,"domain":false,"ticks":false,"labelColor":"#9ea8b2","labelFontSize":8,"labelPadding":7,"minExtent":35,"maxExtent":35}}}},
{"data":{"values":[{"i":-9.1,"v":100,"t":"RSI"}]},"mark":{"type":"text","align":"left","color":"#9ea8b2","fontSize":7.5},"encoding":{"y":{"field":"v","type":"quantitative","scale":{"domain":[-6.07,108.7],"nice":false,"zero":false},"axis":null},"text":{"field":"t"}}},
{"data":{"values":[{"v":-5.25}]},"mark":{"type":"rule","color":"#59626b"},"encoding":{"x":{"datum":-13.5},"x2":{"datum":77.5},"y":{"field":"v","type":"quantitative","scale":{"domain":[-6.07,108.7],"nice":false,"zero":false},"axis":null}}}
]
},
{
"width":632,"height":65,
"resolve":{"axis":{"y":"independent"}},
"encoding":{"x":{"field":"i","type":"quantitative","scale":{"domain":[-9.24,73],"nice":false,"zero":false},"axis":null}},
"layer":[
{"data":{"name":"dates"},"mark":{"type":"rule","color":"#36414d"},"encoding":{}},
{"data":{"name":"sel"},"mark":{"type":"rule","color":"#7b838c"},"encoding":{}},
{"data":{"values":[{"v":0}]},"mark":{"type":"rule","color":"#7a4a28","strokeWidth":1.2},"encoding":{"x":{"datum":-9.24},"x2":{"datum":73},"y":{"field":"v","type":"quantitative","scale":{"domain":[-2.97,2.07],"nice":false,"zero":false},"axis":{"orient":"left","values":[-1,0,1],"title":null,"grid":true,"gridColor":"#29343f","domain":false,"ticks":false,"labelColor":"#9ea8b2","labelFontSize":8,"labelPadding":2,"minExtent":33,"maxExtent":33}}}},
{"data":{"name":"mtrend"},"mark":{"type":"line","color":"#b8bcc0","strokeWidth":1.2},"encoding":{"y":{"field":"v","type":"quantitative","scale":{"domain":[-2.97,2.07],"nice":false,"zero":false},"axis":null}}},
{"data":{"name":"macd"},"transform":[{"filter":"datum.s=='s'"}],"mark":{"type":"line","color":"#2020f0","strokeWidth":1.5},"encoding":{"y":{"field":"v","type":"quantitative","scale":{"domain":[-2.97,2.07],"nice":false,"zero":false},"axis":null}}},
{"data":{"name":"macd"},"transform":[{"filter":"datum.s=='m'"}],"mark":{"type":"line","color":"#cfcf25","strokeWidth":1},"encoding":{"y":{"field":"v","type":"quantitative","scale":{"domain":[-2.97,2.07],"nice":false,"zero":false},"axis":{"orient":"right","values":[-1,0,1],"title":null,"grid":false,"domain":false,"ticks":false,"labelColor":"#9ea8b2","labelFontSize":8,"labelPadding":7,"minExtent":35,"maxExtent":35}}}},
{"data":{"values":[{"i":-9.1,"v":1.62,"t":"MACD"}]},"mark":{"type":"text","align":"left","color":"#9ea8b2","fontSize":7.5},"encoding":{"y":{"field":"v","type":"quantitative","scale":{"domain":[-2.97,2.07],"nice":false,"zero":false},"axis":null},"text":{"field":"t"}}},
{"data":{"name":"dates"},"mark":{"type":"text","color":"#9ea8b2","fontSize":8},"encoding":{"y":{"datum":-2.23,"type":"quantitative","scale":{"domain":[-2.97,2.07],"nice":false,"zero":false},"axis":null},"text":{"field":"t"}}},
{"data":{"name":"sel"},"mark":{"type":"rect","color":"#e4e9ed"},"encoding":{"x":{"field":"a","type":"quantitative"},"x2":{"field":"b"},"y":{"datum":-1.86,"type":"quantitative","scale":{"domain":[-2.97,2.07],"nice":false,"zero":false},"axis":null},"y2":{"datum":-2.56}}},
{"data":{"name":"sel"},"mark":{"type":"text","color":"#1e2630","fontSize":6.8},"encoding":{"x":{"field":"m","type":"quantitative"},"y":{"datum":-2.21,"type":"quantitative","scale":{"domain":[-2.97,2.07],"nice":false,"zero":false},"axis":null},"text":{"field":"t"}}}
]
}
]
}
